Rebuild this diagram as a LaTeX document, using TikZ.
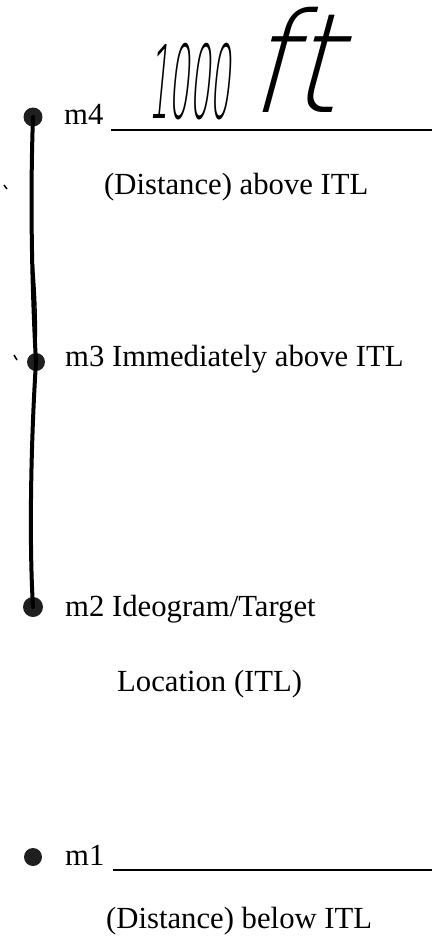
\documentclass[tikz,border=0pt]{standalone}
\usepackage{fontspec}
\setmainfont{Liberation Serif}
\newfontfamily\handfont[FakeSlant=0.3]{DejaVu Sans ExtraLight}
\begin{document}
\begin{tikzpicture}[x=1pt,y=-1pt,
  dot/.style={circle,fill=black!88,inner sep=0pt,minimum size=#1},
  lbl/.style={anchor=base west,inner sep=0pt,font=\fontsize{30.7}{36}\selectfont},
  wire/.style={line width=4pt,line cap=round},
  blank/.style={line width=1.6pt}]
\useasboundingbox (0,0) rectangle (432,940);
% dots
\node[dot=19pt] (m4) at (33,117) {};
\node[dot=18pt] (m3) at (36,362) {};
\node[dot=20pt] (m2) at (33,607) {};
\node[dot=18pt] (m1) at (33,857) {};
% labels
\node[lbl] (t4) at (64,124) {m4};
\node[lbl] (d4) at (104,194) {(Distance) above ITL};
\node[lbl] (t3) at (65,366) {m3 Immediately above ITL};
\node[lbl] (t2) at (65,616) {m2 Ideogram/Target};
\node[lbl] (l2) at (117,691) {Location (ITL)};
\node[lbl] (t1) at (65,865) {m1};
\node[lbl] (d1) at (106,928) {(Distance) below ITL};
% blanks
\coordinate (b4s) at (111,130); \coordinate (b4e) at (432,130);
\coordinate (b1s) at (113,870); \coordinate (b1e) at (432,870);
\draw[blank] (b4s) -- (b4e);
\draw[blank] (b1s) -- (b1e);
% handwriting
\node[anchor=base west,inner sep=0pt] (hw1) at (148,118)
  {\handfont\fontsize{70}{70}\selectfont\scalebox{0.46}[1.45]{1000}};
\node[anchor=base west,inner sep=0pt] (hw2) at (246,112)
  {\handfont\fontsize{132}{132}\selectfont\scalebox{0.95}[1.05]{ft}};
% connector
\draw[wire] (m4.center) .. controls (30,200) and (32,290) .. (m3.center);
\draw[line width=1.4pt] (32,250) .. controls (36,290) and (37,320) .. (36,350);
\draw[wire] (m3.center) .. controls (31,440) and (29,540) .. (m2.center);
% specks
\coordinate (s1a) at (4,185); \coordinate (s1b) at (7,189);
\coordinate (s2a) at (14,355); \coordinate (s2b) at (17,360);
\draw[line width=1.5pt] (s1a) -- (s1b);
\draw[line width=1.5pt] (s2a) -- (s2b);
\end{tikzpicture}
\end{document}
